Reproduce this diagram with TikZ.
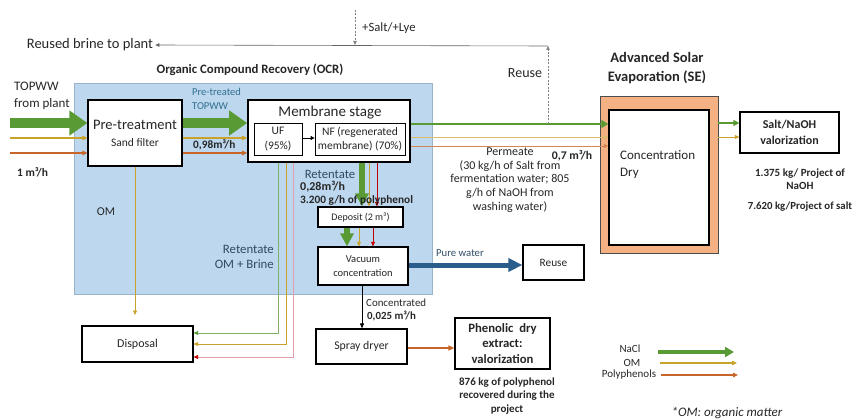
\documentclass[tikz,border=0pt]{standalone}
\usepackage{fontspec}
\setmainfont{Carlito}
\usetikzlibrary{arrows.meta}
\definecolor{nacl}{HTML}{5A9A35}
\definecolor{omc}{HTML}{C9A22A}
\definecolor{polyc}{HTML}{C8662A}
\definecolor{redc}{HTML}{C00000}
\definecolor{pinkc}{HTML}{E3A0A8}
\definecolor{lgreen}{HTML}{7FB06A}
\definecolor{waterc}{HTML}{2A5D8C}
\definecolor{ocrfill}{HTML}{BDD7EE}
\definecolor{ocrline}{HTML}{9AB3C8}
\definecolor{sefill}{HTML}{F4B183}
\definecolor{txt}{HTML}{262626}
\definecolor{tealtxt}{HTML}{2F6F8F}
\definecolor{slatetxt}{HTML}{2F4A63}
\newcommand{\fs}[1]{\fontsize{#1}{#1}\selectfont}
\begin{document}
\begin{tikzpicture}[x=1pt,y=-1pt,
  every node/.style={text=txt, inner sep=0pt},
  box/.style={draw=black, line width=1.2pt, fill=white, align=center},
  lbl/.style={font=\fs{11}},
  blbl/.style={font=\fs{11.3}\bfseries},
  bigflow/.style={draw=nacl, line width=10pt, -{Triangle[length=18pt,width=24pt]}},
  midflow/.style={draw=nacl, line width=6pt, -{Triangle[length=13pt,width=13pt]}},
  permflow/.style={draw=nacl, line width=2.6pt, -{Triangle[length=7pt,width=8pt]}},
  thinflow/.style={line width=1.2pt, -{Triangle[length=5pt,width=4.5pt]}},
  hairflow/.style={line width=0.8pt, -{Triangle[length=4.5pt,width=4pt]}},
  guide/.style={draw=black!60, line width=0.6pt, -{Triangle[length=4pt,width=3.5pt]}},
  dguide/.style={guide, draw=gray, dash pattern=on 2pt off 1.5pt}
]
\useasboundingbox (0,0) rectangle (855,420);

% Organic Compound Recovery area
\draw[fill=ocrfill, draw=ocrline, line width=0.6pt] (74,83) rectangle (432,294);
\node[font=\fs{12.8}\bfseries] (ocrt) at (250,70) {Organic Compound Recovery (OCR)};

% Advanced Solar Evaporation frame
\draw[fill=sefill, draw=black!70, line width=0.8pt] (600,96) rectangle (718,253);
\node[font=\fs{14.5}\bfseries, align=center] (set) at (657,68) {Advanced Solar\\[4pt]Evaporation (SE)};

% Process units
\node[box, minimum width=94, minimum height=66] (pre) at (135,133)
  {{\fs{14.5}Pre-treatment}\\[5pt]{\fs{11.5}Sand filter}};
\node[box, line width=1.6pt, minimum width=162, minimum height=62] (mem) at (329,131) {};
\node[font=\fs{15}] (memt) at (330,113) {Membrane stage};
\node[box, line width=0.8pt, minimum width=48, minimum height=32, font=\fs{11.5}] (uf) at (278,139) {UF\\[3pt](95\%)};
\node[box, line width=0.8pt, minimum width=90, minimum height=32, font=\fs{11.5}] (nf) at (360,139) {NF (regenerated\\[3pt]membrane) (70\%)};
\node[box, line width=1.5pt, minimum width=100, minimum height=135] (sein) at (659,177.5) {};
\node[font=\fs{13}, align=left, anchor=west] (setx) at (620,165) {Concentration\\[4pt]Dry};
\node[box, minimum width=99, minimum height=41, font=\fs{12}\bfseries] (salt) at (789.5,132.5) {Salt/NaOH\\[4pt]valorization};
\node[box, minimum width=85, minimum height=20, font=\fs{10}] (dep) at (360.5,217) {Deposit (2 m³)};
\node[box, minimum width=90, minimum height=38, font=\fs{10.5}] (vac) at (363,266) {Vacuum\\[4pt]concentration};
\node[box, minimum width=61, minimum height=35, font=\fs{11.3}] (reuse) at (553.5,262.5) {Reuse};
\node[box, minimum width=91, minimum height=35, font=\fs{11.8}] (spray) at (361.5,346.5) {Spray dryer};
\node[box, minimum width=95, minimum height=51, font=\fs{12.7}\bfseries] (phen) at (502.5,343.5) {Phenolic\ \ dry\\[3pt]extract:\\[3pt]valorization};
\node[box, minimum width=111, minimum height=36, font=\fs{12}] (disp) at (137.5,344) {Disposal};

% Free ends
\coordinate (feedG) at (10,123);
\coordinate (feedY) at (10,138);
\coordinate (feedO) at (10,153);
\coordinate (permG) at (0,124);
\coordinate (permY) at (0,137);
\coordinate (permO) at (0,146);
\coordinate (reuseUp) at (548,124);
\coordinate (reuseTop) at (548,46);
\coordinate (lyeTop) at (355,10);
\coordinate (lyeEnd) at (355,45);
\coordinate (omEnd) at (135,315);
\coordinate (rG) at (278,333);
\coordinate (rY) at (286,344);
\coordinate (rR) at (293,357);

% Feed into pre-treatment
\draw[bigflow] (feedG) -- (pre.west |- feedG);
\draw[thinflow, draw=omc] (feedY) -- (pre.west |- feedY);
\draw[thinflow, draw=polyc] (feedO) -- (pre.west |- feedO);

% Pre-treatment to membrane stage
\draw[bigflow] (pre.east |- feedG) -- (mem.west |- feedG);
\draw[thinflow, draw=omc] (pre.east |- feedY) -- (mem.west |- feedY);
\draw[thinflow, draw=polyc] (pre.east |- feedO) -- (mem.west |- feedO);
\draw[line width=0.8pt, -{Triangle[length=4pt,width=4pt]}] (uf.east |- 0,138) -- (nf.west |- 0,138);

% Permeate to solar evaporation
\draw[permflow] (mem.east |- permG) -- (sein.west |- permG);
\draw[hairflow, draw=omc!70!white] (mem.east |- permY) -- (sein.west |- permY);
\draw[hairflow, draw=polyc!80!white] (mem.east |- permO) -- (sein.west |- permO);

% Brine reuse loop
\draw[dguide] (reuseUp) -- (reuseTop);
\node[font=\fs{14.5}] (brine) at (90,45) {Reused brine to plant};
\draw[guide] (reuseTop) -- ([xshift=2pt]brine.east);
\draw[dguide] (lyeTop) -- (lyeEnd);
\node[font=\fs{12.7}, anchor=west] (lye) at (362,28) {+Salt/+Lye};
\node[font=\fs{14}] (reuset) at (525,73) {Reuse};

% Solar evaporation to salt valorization
\draw[permflow, line width=2pt, -{Triangle[length=6pt,width=6pt]}] (718,123) -- (salt.west |- 0,123);
\draw[hairflow, draw=omc] (718,137) -- (salt.west |- 0,137);

% Retentate to deposit and vacuum concentration
\draw[midflow] (mem.south -| 362,0) -- (dep.north -| 362,0);
\draw[hairflow, draw=omc] (mem.south -| 369,0) -- (dep.north -| 369,0);
\draw[hairflow, draw=redc] (mem.south -| 377,0) -- (dep.north -| 377,0);
\draw[midflow] (dep.south -| 347,0) -- (vac.north -| 347,0);
\draw[hairflow, draw=omc] (dep.south -| 359,0) -- (vac.north -| 359,0);
\draw[hairflow, draw=redc] (dep.south -| 373,0) -- (vac.north -| 373,0);

% Pure water and concentrate
\draw[draw=waterc, line width=5pt, -{Triangle[length=14pt,width=13pt]}] (vac.east |- 0,265) -- (reuse.west |- 0,265);
\draw[line width=0.9pt, -{Triangle[length=5pt,width=4pt]}] (vac.south -| 362,0) -- (spray.north -| 362,0);
\draw[thinflow, line width=1.6pt, draw=polyc, -{Triangle[length=6pt,width=5pt]}] (spray.east |- 0,348) -- (phen.west |- 0,348);

% Organic matter and retentate to disposal
\draw[hairflow, draw=omc] (pre.south -| omEnd) -- (omEnd);
\draw[hairflow, draw=lgreen, -{Triangle[length=4.5pt,width=4pt,color=nacl,fill=nacl]}] (mem.south -| rG) -- (rG) -- (disp.east |- rG);
\draw[hairflow, draw=omc] (mem.south -| rY) -- (rY) -- (disp.east |- rY);
\draw[hairflow, draw=pinkc, -{Triangle[length=4.5pt,width=4pt,color=redc,fill=redc]}] (mem.south -| rR) -- (rR) -- (disp.east |- rR);

% Labels
\node[font=\fs{13}, align=left, anchor=west] (topww) at (14,96) {TOPWW\\[4pt]from plant};
\node[font=\fs{11.5}\bfseries, anchor=west] (q1) at (17,172) {1 m³/h};
\node[font=\fs{10.5}, text=tealtxt, align=left, anchor=west] (pret) at (192,99) {Pre-treated\\[3pt]TOPWW};
\node[blbl, anchor=west] (q098) at (193,145) {0,98m³/h};
\node[font=\fs{12}] (om) at (106,212) {OM};
\node[font=\fs{12.8}, text=slatetxt, align=right, anchor=east] (retl) at (274,257) {Retentate\\[2pt]OM + Brine};
\node[font=\fs{12.7}, text=slatetxt] (ret) at (330,174) {Retentate};
\node[font=\fs{12}\bfseries, text=black!85, anchor=west] (q028) at (300,187) {0,28m³/h};
\node[blbl, text=black!85, anchor=west] (poly) at (300,200) {3.200 g/h of polyphenol};
\node[font=\fs{12}, align=center] (perm) at (510,180) {Permeate\\[1.8pt](30 kg/h of Salt from\\[1.8pt]fermentation water; 805\\[1.8pt]g/h of NaOH from\\[1.8pt]washing water)};
\node[font=\fs{11.7}\bfseries] (q07) at (572,156) {0,7 m³/h};
\node[font=\fs{10.7}, text=slatetxt, anchor=west] (pw) at (436,253) {Pure water};
\node[font=\fs{10.9}, anchor=west] (conc) at (366,303) {Concentrated};
\node[font=\fs{10.9}\bfseries, anchor=west] (q0025) at (367,316) {0,025 m³/h};
\node[font=\fs{11}\bfseries, align=center] (naoh) at (800,179) {1.375 kg/ Project of\\[2.5pt]NaOH};
\node[font=\fs{10.8}\bfseries] (saltq) at (800,207) {7.620 kg/Project of salt};
\node[font=\fs{11}\bfseries, align=center] (polyq) at (507,396) {876 kg of polyphenol\\[2.5pt]recovered during the\\[2.5pt]project};

% Legend
\node[font=\fs{11}] (lgN) at (630,349) {NaCl};
\node[font=\fs{11}] (lgO) at (632,363) {OM};
\node[font=\fs{11}] (lgP) at (629,375) {Polyphenols};
\coordinate (lgNa) at (658,352);
\coordinate (lgNb) at (734,352);
\coordinate (lgOa) at (660,363);
\coordinate (lgOb) at (737,363);
\coordinate (lgPa) at (661,375);
\coordinate (lgPb) at (738,375);
\draw[draw=nacl, line width=4pt, -{Triangle[length=9pt,width=10pt]}] (lgNa) -- (lgNb);
\draw[thinflow, draw=omc] (lgOa) -- (lgOb);
\draw[thinflow, draw=polyc] (lgPa) -- (lgPb);
\node[font=\fs{13}\itshape] (omnote) at (727,413) {*OM: organic matter};
\end{tikzpicture}
\end{document}
